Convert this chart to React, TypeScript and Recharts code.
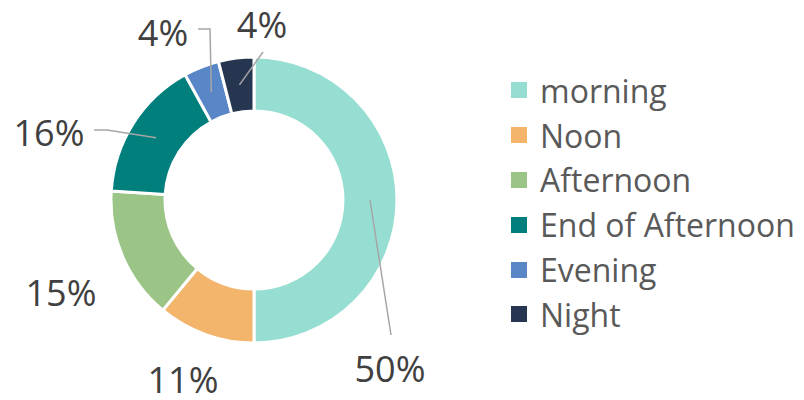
import { Legend, Pie, PieChart, Cell } from 'recharts'

const categories = ['morning', 'Noon', 'Afternoon', 'End of Afternoon', 'Evening', 'Night']
const shares = [50, 11, 15, 16, 4, 4]
const colors = ['#97DED2', '#F3B56C', '#9BC586', '#017F7D', '#5886C6', '#263650']

// where each percentage sits, and the elbow of its leader line (null = no line)
const labelSpots = [
  { x: 390, y: 368, line: [[391, 335]] },
  { x: 183, y: 379, line: null },
  { x: 61, y: 292, line: null },
  { x: 49, y: 132, line: [[94, 130], [107, 130]] },
  { x: 163, y: 32, line: [[198, 29], [210, 29]] },
  { x: 262, y: 24, line: [[263, 52]] },
]

const chartData = categories.map((name, i) => ({ name, value: shares[i] }))

const RADIAN = Math.PI / 180

function renderLabel(props: any) {
  const { cx, cy, midAngle, innerRadius, outerRadius, index, value } = props
  const spot = labelSpots[index]
  const r = (innerRadius + outerRadius) / 2
  const sx = cx + r * Math.cos(-midAngle * RADIAN)
  const sy = cy + r * Math.sin(-midAngle * RADIAN)
  const points = spot.line ? [...spot.line, [sx, sy]].map((p) => p.join(',')).join(' ') : null

  return (
    <g>
      {points && <polyline points={points} fill="none" stroke="#A6A6A6" strokeWidth={1.5} />}
      <text
        x={spot.x}
        y={spot.y}
        textAnchor="middle"
        dominantBaseline="central"
        fill="#404040"
        fontSize={36}
        fontFamily="'Open Sans', sans-serif"
      >
        {value}%
      </text>
    </g>
  )
}

function renderLegend() {
  return (
    <div style={{ fontFamily: "'Open Sans', sans-serif" }}>
      {categories.map((name, i) => (
        <div
          key={name}
          style={{ display: 'flex', alignItems: 'center', height: 44.8, fontSize: 32, color: '#595959' }}
        >
          <span style={{ width: 16, height: 16, background: colors[i], marginRight: 13, flexShrink: 0 }} />
          <span style={{ whiteSpace: 'nowrap' }}>{name}</span>
        </div>
      ))}
    </div>
  )
}

export default function App() {
  return (
    <div style={{ position: 'absolute', left: 0, top: 0, background: '#fff' }}>
      <PieChart width={804} height={400} margin={{ top: 0, right: 0, bottom: 0, left: 0 }}>
        <Pie
          data={chartData}
          dataKey="value"
          nameKey="name"
          cx={254}
          cy={200}
          innerRadius={89}
          outerRadius={143}
          startAngle={90}
          endAngle={-270}
          stroke="#fff"
          strokeWidth={3}
          label={renderLabel}
          labelLine={false}
          isAnimationActive={false}
        >
          {chartData.map((d, i) => (
            <Cell key={d.name} fill={colors[i]} />
          ))}
        </Pie>
        <Legend
          content={renderLegend}
          layout="vertical"
          wrapperStyle={{ left: 511, top: 68, width: 293 }}
        />
      </PieChart>
    </div>
  )
}
